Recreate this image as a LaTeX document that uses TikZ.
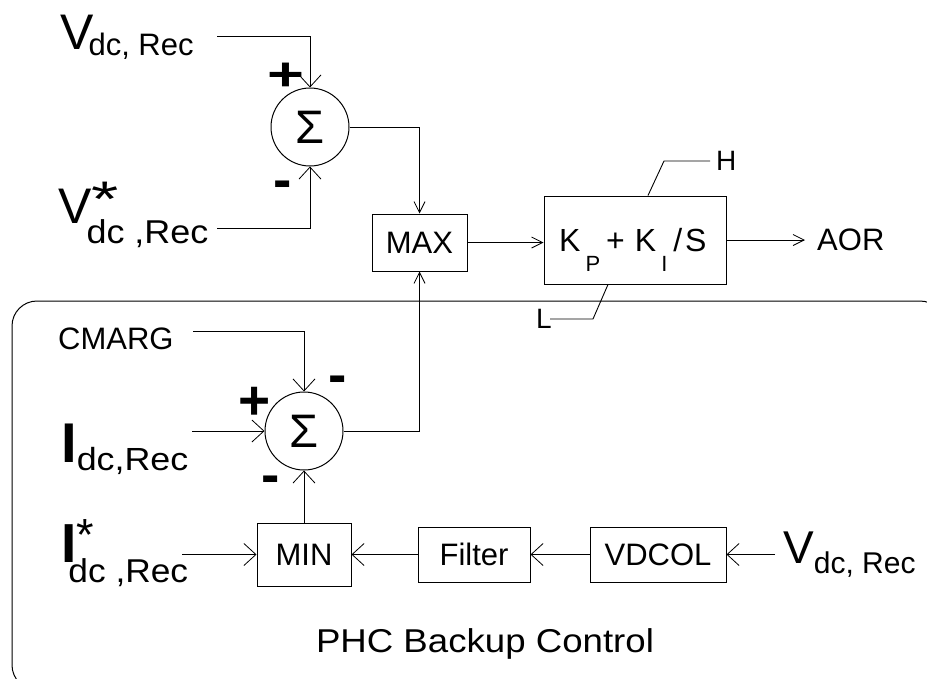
\documentclass[tikz,border=0pt]{standalone}
\usepackage{fontspec}
\setmainfont{Liberation Sans}
\usetikzlibrary{arrows.meta}
\newcommand\fsz[1]{\fontsize{#1}{#1}\selectfont}
\begin{document}
\begin{tikzpicture}[x=1pt,y=-1pt,
  line/.style={line width=0.9pt, draw=black},
  arr/.style={line, -{Straight Barb[length=12pt,width=22pt,line width=0.8pt]}},
  arrn/.style={line, -{Straight Barb[length=11pt,width=11pt,line width=0.8pt]}},
  blk/.style={draw, line width=1pt, inner sep=0pt, font=\fsz{31}},
  sumc/.style={draw, circle, line width=1pt, minimum size=78pt, inner sep=0pt, font=\fsz{47}},
  lbl/.style={inner sep=0pt, anchor=base west},
  sgn/.style={inner sep=0pt, anchor=base, font=\fsz{55}\bfseries},
]
\useasboundingbox (0,0) rectangle (927,678);
\fill[white] (0,0) rectangle (927,678);

% backup control frame
\draw[line width=1pt, rounded corners=25pt] (12,301) rectangle (945,690);

% summing junctions
\node[sumc] (sum1) at (310,127) {Σ};
\node[sumc] (sum2) at (304,431) {Σ};

% blocks
\node[blk, minimum width=95pt, minimum height=57pt] (max) at (419.5,242.5) {MAX};
\node[blk, minimum width=182pt, minimum height=88pt] (pi) at (635,240) {};
\node[lbl] (pitxt) at (559,251) {\fsz{32}K\hspace{5pt}\raisebox{-20pt}{\fsz{22}P}\hspace{6pt}+\hspace{10pt}K\hspace{5pt}\raisebox{-20pt}{\fsz{22}I}\hspace{6pt}/\hspace{3pt}S};
\node[blk, minimum width=94pt, minimum height=63pt] (min) at (304,554.5) {MIN};
\node[blk, minimum width=112pt, minimum height=55pt] (filt) at (474,554.5) {Filter};
\node[blk, minimum width=136pt, minimum height=55pt] (vdcol) at (658,554.5) {VDCOL};

% limits
\node[lbl, font=\fsz{28}] (h) at (716,170) {H};
\node[lbl, font=\fsz{28}] (l) at (536,328) {L};
\coordinate (h1) at (664,161);
\coordinate (h2) at (710,161);
\coordinate (l1) at (593,319);
\coordinate (l2) at (550,319);
\draw[line] ([xshift=13pt]pi.north) -- (h1) -- (h2);
\draw[line] ([xshift=-27pt]pi.south) -- (l1) -- (l2);

% output
\node[lbl, font=\fsz{31}] (aor) at (817,250) {AOR};
\draw[arrn, shorten >=12pt] (pi.east) -- (pi.east -| aor.west);

% upper inputs
\node[lbl] (v1) at (60,49) {\fsz{50}V\kern-5pt\raisebox{-6pt}{\fsz{31}dc, Rec}};
\node[lbl] (v2) at (58,223) {\fsz{50}V\rlap{\raisebox{7pt}{\scalebox{1.4}[1]{*}}}\kern-5pt\raisebox{-20pt}{\scalebox{1.09}[1]{\fsz{33}dc ,Rec}}};
\coordinate (v1e) at (217,36);
\coordinate (v2e) at (217,228);
\draw[arr] (v1e) -| (sum1.north);
\draw[arr] (v2e) -| (sum1.south);
\node[sgn] (p1) at (286,90.5) {\scalebox{1.15}[0.85]{+}};
\node[sgn] (m1) at (282.5,198) {-};

\draw[arrn] (sum1.east) -| (max.north);
\draw[arrn] (sum2.east) -| (max.south);
\draw[arrn] (max.east) -- (max.east -| pi.west);

% lower inputs
\node[lbl, font=\fsz{31}] (cmarg) at (58,349) {CMARG};
\coordinate (ce) at (193,331);
\draw[arr] (ce) -| (sum2.north);
\node[lbl] (i1) at (61,462) {{\fsz{56}\bfseries I}\raisebox{-8pt}{\scalebox{1.12}[1]{\fsz{32}dc,Rec}}};
\coordinate (ie) at (192,431);
\draw[arr] (ie) -- (sum2.west);
\node[sgn] (p2) at (254.5,419) {+};
\node[sgn] (m2) at (337.5,393) {-};
\node[sgn] (m3) at (270.5,493) {-};

\node[lbl] (i2) at (61,562) {{\fsz{55}\bfseries I}\rlap{\raisebox{12pt}{\fsz{45}*}}\kern-8pt\raisebox{-20pt}{\scalebox{1.07}[1]{\fsz{33}dc ,Rec}}};
\coordinate (i2e) at (182,554.5);
\draw[arr] (i2e) -- (min.west);
\draw[arr] (min.north) -- (sum2.south);
\draw[arr] (filt.west) -- (min.east);
\draw[arr] (vdcol.west) -- (filt.east);
\node[lbl] (v3) at (783,563) {\fsz{46}V\raisebox{-10pt}{\fsz{30}dc, Rec}};
\coordinate (v3e) at (775,554.5);
\draw[arr] (v3e) -- (vdcol.east);

\node[inner sep=0pt, anchor=base, font=\fsz{33}] (phc) at (485,652) {\scalebox{1.11}[1]{PHC Backup Control}};
\end{tikzpicture}
\end{document}
